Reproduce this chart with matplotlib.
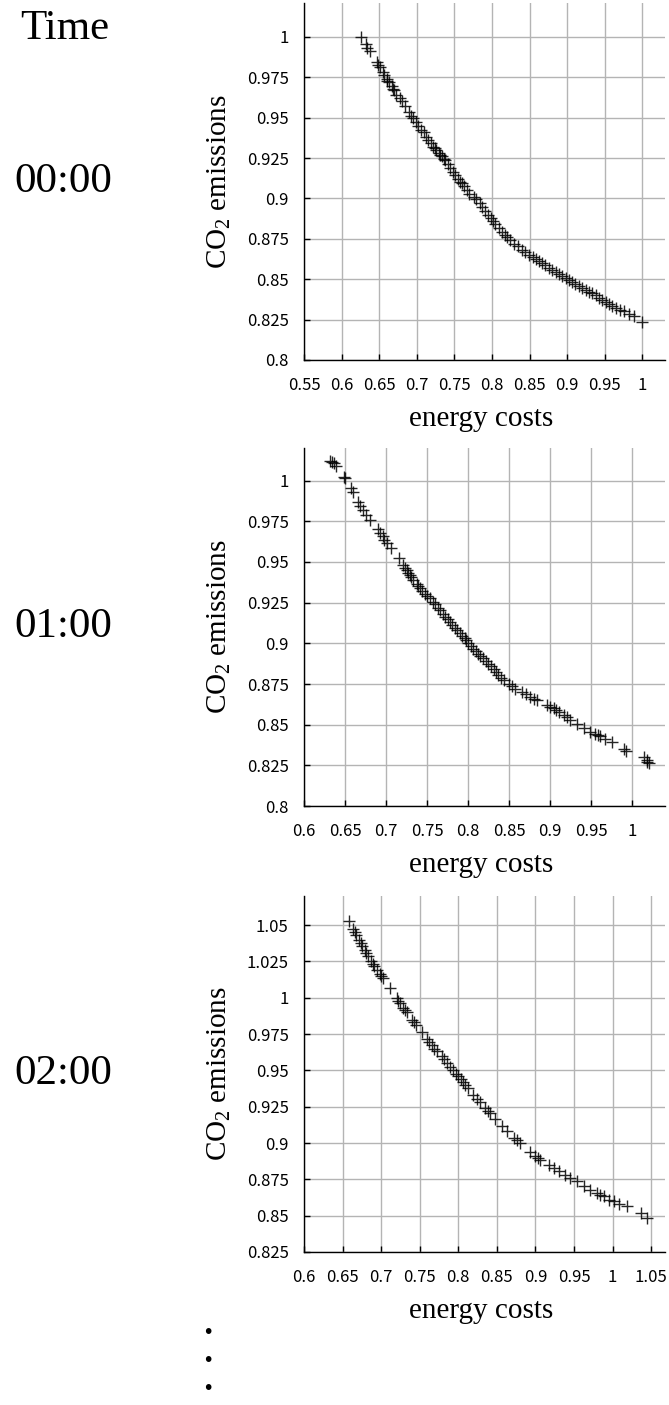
import matplotlib
matplotlib.use("Agg")
import matplotlib.pyplot as plt
from matplotlib.ticker import FuncFormatter
import numpy as np

plt.rcParams["mathtext.fontset"] = "custom"
plt.rcParams["mathtext.rm"] = "Liberation Serif"
plt.rcParams["mathtext.it"] = "Liberation Serif:italic"

# values (energy costs, CO2 emissions)
cost_00 = [0.626, 0.632, 0.634, 0.638, 0.6465, 0.649, 0.651, 0.6546, 0.657, 0.66, 0.661, 0.663, 0.6666,
           0.668, 0.670, 0.673, 0.677, 0.680, 0.684, 0.689, 0.692, 0.6955, 0.699, 0.702, 0.705, 0.709,
           0.712, 0.7155, 0.719, 0.722, 0.724, 0.726, 0.729, 0.731, 0.733, 0.736, 0.738, 0.741, 0.744,
           0.748, 0.751, 0.755, 0.758, 0.760, 0.763, 0.7666, 0.770, 0.7755, 0.779, 0.7835, 0.787, 0.791,
           0.795, 0.798, 0.801, 0.8045, 0.809, 0.8135, 0.817, 0.820, 0.824, 0.829, 0.834, 0.840, 0.844,
           0.849, 0.854, 0.858, 0.862, 0.8667, 0.871, 0.8756, 0.880, 0.8845, 0.889, 0.8934, 0.898, 0.902,
           0.906, 0.911, 0.916, 0.920, 0.925, 0.929, 0.933, 0.938, 0.942, 0.9468, 0.951, 0.9557, 0.960,
           0.9646, 0.970, 0.9757, 0.982, 0.989, 1.0]
co2_00 = [1.0, 0.9954, 0.993, 0.991, 0.9844, 0.9825, 0.9814, 0.978, 0.9765, 0.974, 0.9728, 0.9718, 0.9695,
          0.968, 0.967, 0.964, 0.962, 0.960, 0.9575, 0.9536, 0.951, 0.9495, 0.947, 0.9447, 0.9425, 0.941,
          0.938, 0.936, 0.9345, 0.932, 0.931, 0.930, 0.928, 0.927, 0.926, 0.9245, 0.924, 0.921, 0.9186,
          0.9165, 0.9144, 0.912, 0.910, 0.9093, 0.9075, 0.905, 0.903, 0.901, 0.8995, 0.897, 0.8945, 0.892,
          0.8895, 0.8876, 0.8862, 0.884, 0.8815, 0.8794, 0.8775, 0.876, 0.874, 0.872, 0.8705, 0.868, 0.8668,
          0.865, 0.8635, 0.8622, 0.861, 0.86, 0.8585, 0.8567, 0.8558, 0.8547, 0.8533, 0.852, 0.851, 0.8495,
          0.8484, 0.847, 0.8455, 0.8443, 0.8432, 0.8423, 0.8412, 0.840, 0.8385, 0.837, 0.8358, 0.8346, 0.8335,
          0.832, 0.831, 0.830, 0.8285, 0.827, 0.8237]

cost_01 = [0.6314, 0.6346, 0.636, 0.6387, 0.6485, 0.6497, 0.6578, 0.66, 0.666, 0.6688, 0.672, 0.676,
           0.681, 0.6904, 0.6925, 0.6957, 0.698, 0.7006, 0.7055, 0.716, 0.721, 0.723, 0.725, 0.727, 0.729,
           0.731, 0.7332, 0.7373, 0.739, 0.7413, 0.744, 0.7475, 0.750, 0.7536, 0.757, 0.7597, 0.763, 0.7658,
           0.769, 0.772, 0.775, 0.778, 0.781, 0.784, 0.787, 0.7902, 0.793, 0.7963, 0.798, 0.8004, 0.803,
           0.8065, 0.81, 0.8126, 0.815, 0.8187, 0.822, 0.8248, 0.828, 0.831, 0.834, 0.837, 0.840, 0.8432,
           0.8493, 0.853, 0.8574, 0.8656, 0.870, 0.8758, 0.880, 0.884, 0.8961, 0.900, 0.9043, 0.907, 0.9104,
           0.9165, 0.920, 0.9247, 0.9328, 0.941, 0.949, 0.9552, 0.958, 0.9613, 0.9674, 0.9756, 0.9898,
           0.992, 1.0143, 1.0175, 1.0184, 1.0204]
co2_01 = [1.0123, 1.0117, 1.0107, 1.009, 1.0025, 1.0014, 0.9953, 0.9932, 0.987, 0.9844, 0.982, 0.979,
          0.976, 0.970, 0.968, 0.966, 0.9635, 0.9615, 0.9584, 0.9522, 0.9481, 0.9465, 0.945, 0.9435, 0.942,
          0.9405, 0.9389, 0.9364, 0.935, 0.9337, 0.932, 0.9306, 0.929, 0.9276, 0.9255, 0.924, 0.922, 0.9204,
          0.918, 0.9163, 0.9148, 0.9132, 0.9115, 0.9097, 0.908, 0.9064, 0.9045, 0.903, 0.9018, 0.9003, 0.8985,
          0.8968, 0.895, 0.8937, 0.8922, 0.8907, 0.889, 0.8876, 0.8858, 0.884, 0.8822, 0.8804, 0.8788, 0.8773,
          0.8747, 0.8735, 0.8722, 0.8701, 0.869, 0.867, 0.866, 0.865, 0.862, 0.861, 0.8603, 0.859, 0.8578,
          0.8558, 0.8545, 0.8527, 0.8507, 0.848, 0.8455, 0.844, 0.8435, 0.8428, 0.8414, 0.8394, 0.8353,
          0.8338, 0.8302, 0.8281, 0.827, 0.8265]

cost_02 = [0.6585, 0.6637, 0.666, 0.668, 0.6715, 0.674, 0.6758, 0.6789, 0.681, 0.6832, 0.6875, 0.689, 0.691,
           0.6949, 0.6984, 0.700, 0.7018, 0.7114, 0.72, 0.722, 0.7244, 0.7287, 0.731, 0.733, 0.7395, 0.742,
           0.7452, 0.7525, 0.759, 0.762, 0.7655, 0.769, 0.772, 0.7785, 0.781, 0.785, 0.789, 0.7937, 0.797,
           0.8002, 0.803, 0.8067, 0.809, 0.8132, 0.8197, 0.824, 0.8283, 0.8348, 0.838, 0.8413, 0.8478, 0.8565,
           0.863, 0.8717, 0.876, 0.8803, 0.8933, 0.8998, 0.903, 0.9063, 0.9172, 0.9237, 0.9302, 0.9388, 0.9453,
           0.954, 0.9627, 0.9713, 0.98, 0.984, 0.9887, 0.9952, 1.0017, 1.0082, 1.019, 1.0363, 1.045]
co2_02 = [1.0525, 1.0472, 1.045, 1.0433, 1.040, 1.0375, 1.0358, 1.033, 1.031, 1.0289, 1.025, 1.0235, 1.022,
          1.0193, 1.0165, 1.015, 1.0136, 1.0067, 0.9998, 0.998, 0.9964, 0.9929, 0.9915, 0.990, 0.9849, 0.983,
          0.9814, 0.9762, 0.9716, 0.9695, 0.9677, 0.965, 0.9631, 0.9597, 0.958, 0.9551, 0.9525, 0.950, 0.9478,
          0.9459, 0.944, 0.9418, 0.940, 0.9379, 0.9333, 0.9305, 0.928, 0.9241, 0.922, 0.9207, 0.9165, 0.9115,
          0.908, 0.9034, 0.9018, 0.900, 0.8936, 0.8913, 0.890, 0.8885, 0.8851, 0.8828, 0.8805, 0.8782, 0.8759,
          0.8736, 0.8706, 0.8679, 0.8656, 0.8645, 0.8633, 0.861, 0.8599, 0.8583, 0.8564, 0.8518, 0.8484]

times = ["00:00", "01:00", "02:00"]
x_ticks = [np.arange(0.55, 1.0001, 0.05), np.arange(0.6, 1.0001, 0.05), np.arange(0.6, 1.0501, 0.05)]
y_ticks = [np.arange(0.8, 1.0001, 0.025), np.arange(0.8, 1.0001, 0.025), np.arange(0.825, 1.0501, 0.025)]
x_lims = [(0.55, 1.03), (0.6, 1.04), (0.6, 1.068)]
y_lims = [(0.8, 1.021), (0.8, 1.020), (0.825, 1.07)]
series = [(cost_00, co2_00), (cost_01, co2_01), (cost_02, co2_02)]

fig = plt.figure(figsize=(6.69, 14.05), dpi=100, facecolor="white")
boxes = [(0.4544, 0.7438, 0.5396, 0.2541),
         (0.4544, 0.4263, 0.5396, 0.2548),
         (0.4544, 0.1089, 0.5396, 0.2534)]

serif = ["Liberation Serif", "DejaVu Serif"]
tickfont = ["Noto Sans CJK JP", "DejaVu Sans"]
fmt = FuncFormatter(lambda v, p: f"{round(v, 3):g}")

for i, box in enumerate(boxes):
    ax = fig.add_axes(box)
    x, y = series[i]
    ax.plot(x, y, linestyle="none", marker="+", markersize=9, markeredgewidth=1.0,
            color="black", alpha=0.85)
    ax.set_xlim(*x_lims[i])
    ax.set_ylim(*y_lims[i])
    ax.set_xticks(x_ticks[i])
    ax.set_yticks(y_ticks[i])
    ax.xaxis.set_major_formatter(fmt)
    ax.yaxis.set_major_formatter(fmt)
    ax.grid(True, color="#b4b4b4", linewidth=1.0)
    ax.set_axisbelow(True)
    for s in ["top", "right"]:
        ax.spines[s].set_visible(False)
    for s in ["left", "bottom"]:
        ax.spines[s].set_color("black")
        ax.spines[s].set_linewidth(1.0)
    ax.tick_params(axis="y", direction="in", length=4, width=1, color="black", pad=11)
    ax.tick_params(axis="x", direction="in", length=4, width=1, color="black", pad=12)
    for lab in ax.get_xticklabels() + ax.get_yticklabels():
        lab.set_family(tickfont)
        lab.set_fontsize(12)
    ax.text(-0.233, 0.5, r"CO$_\mathrm{2}$ emissions", transform=ax.transAxes, rotation=90,
            ha="center", va="center", fontsize=21, family=serif)
    ax.text(0.49, -0.165, "energy costs", transform=ax.transAxes,
            ha="center", va="center", fontsize=21, family=serif)
    cy = box[1] + box[3] / 2
    fig.text(0.094, cy, times[i], ha="center", va="center", fontsize=31, family=serif)

fig.text(0.097, 1 - 29 / 1405, "Time", ha="center", va="center", fontsize=31, family=serif)

for yb in [1333, 1361, 1389]:
    fig.text(208 / 669, 1 - yb / 1405, "\u2022", ha="center", va="center", fontsize=14)

fig.savefig("out.png", dpi=100, facecolor="white")
